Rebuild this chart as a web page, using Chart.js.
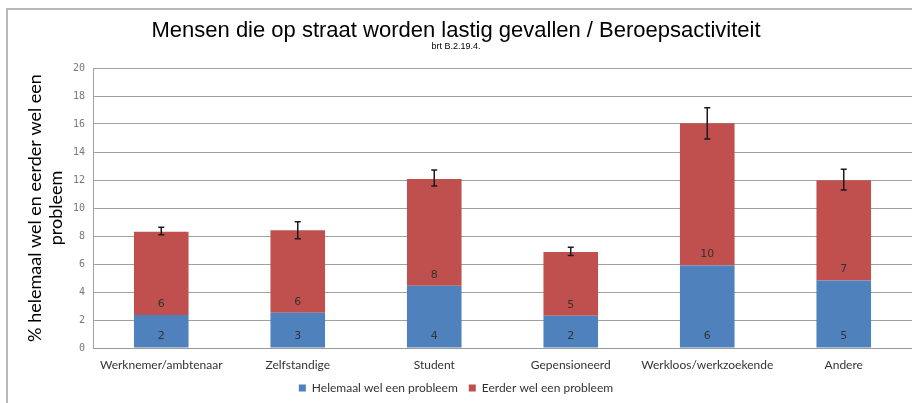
<!DOCTYPE html>
<html>
<head>
<meta charset="utf-8">
<script src="https://cdn.jsdelivr.net/npm/chart.js@4"></script>
<style>
  body { margin: 0; background: #fff; }
  #wrap { position: relative; width: 912px; height: 403px; overflow: hidden; }
  #frame { position: absolute; left: 6px; top: 8px; width: 1000px; height: 500px; border: 2px solid #b8b8b8; }
  #chart { position: absolute; left: 0; top: 0; }
</style>
</head>
<body>
<div id="wrap">
  <div id="frame"></div>
  <canvas id="chart" width="912" height="403"></canvas>
</div>
<script>
const categories = ['Werknemer/ambtenaar', 'Zelfstandige', 'Student', 'Gepensioneerd', 'Werkloos/werkzoekende', 'Andere'];
const helemaal = [2.36, 2.52, 4.45, 2.31, 5.90, 4.83];
const eerder = [5.95, 5.89, 7.62, 4.55, 10.15, 7.15];
const errLow = [8.09, 7.81, 11.57, 6.60, 14.93, 11.29];
const errHigh = [8.62, 9.02, 12.71, 7.19, 17.16, 12.76];
const seriesNames = ['Helemaal wel een probleem', 'Eerder wel een probleem'];
const yMax = 20;
const yStep = 2;

const barLabels = {
    id: 'barLabels',
    afterDatasetsDraw(chart) {
        const ctx = chart.ctx;
        ctx.save();
        ctx.font = '11px "DejaVu Sans"';
        ctx.fillStyle = '#333';
        ctx.textAlign = 'center';
        ctx.textBaseline = 'middle';
        chart.data.datasets.forEach((ds, d) => {
            chart.getDatasetMeta(d).data.forEach((bar, i) => {
                ctx.fillText(Math.round(ds.data[i]), bar.x, bar.base - 11);
            });
        });
        ctx.restore();
    }
};

const errorBars = {
    id: 'errorBars',
    afterDatasetsDraw(chart) {
        const ctx = chart.ctx;
        const y = chart.scales.y;
        const meta = chart.getDatasetMeta(1);
        ctx.save();
        ctx.strokeStyle = '#1a1a1a';
        ctx.lineWidth = 1.5;
        meta.data.forEach((bar, i) => {
            const top = y.getPixelForValue(errHigh[i]);
            const bottom = y.getPixelForValue(errLow[i]);
            ctx.beginPath();
            ctx.moveTo(bar.x, top);
            ctx.lineTo(bar.x, bottom);
            ctx.moveTo(bar.x - 3, top);
            ctx.lineTo(bar.x + 3, top);
            ctx.moveTo(bar.x - 3, bottom);
            ctx.lineTo(bar.x + 3, bottom);
            ctx.stroke();
        });
        ctx.restore();
    }
};

const ctx = document.getElementById('chart').getContext('2d');
window.chart = new Chart(ctx, {
    type: 'bar',
    data: {
        labels: categories,
        datasets: [
            { label: seriesNames[0], data: helemaal, backgroundColor: '#4F81BD' },
            { label: seriesNames[1], data: eerder, backgroundColor: '#C0504D' }
        ]
    },
    options: {
        responsive: false,
        animation: false,
        layout: { padding: 0 },
        datasets: { bar: { barPercentage: 0.4, categoryPercentage: 1 } },
        scales: {
            x: {
                stacked: true,
                afterFit(scale) { scale.height = 23; },
                grid: { display: false, drawTicks: false },
                border: { color: '#999' },
                ticks: { color: '#333', font: { family: 'Lato', size: 12, lineHeight: 1 }, padding: 11, maxRotation: 0, autoSkip: false }
            },
            y: {
                stacked: true,
                min: 0,
                max: yMax,
                afterFit(scale) { scale.width = 93; },
                grid: { color: '#a0a0a0', drawTicks: false },
                border: { color: '#a0a0a0' },
                ticks: { stepSize: yStep, color: '#777', font: { family: 'DejaVu Sans Mono', size: 10 }, padding: 8 },
                title: {
                    display: true,
                    text: ['% helemaal wel en eerder wel een', 'probleem'],
                    color: '#000',
                    font: { family: 'Lato', size: 18 },
                    padding: { top: 24, bottom: 0 }
                }
            }
        },
        plugins: {
            title: {
                display: true,
                text: 'Mensen die op straat worden lastig gevallen / Beroepsactiviteit',
                color: '#000',
                font: { family: '"Liberation Sans"', size: 22, weight: 'normal', lineHeight: 1 },
                padding: { top: 20, bottom: 0 }
            },
            subtitle: {
                display: true,
                text: 'brt B.2.19.4.',
                color: '#000',
                font: { family: '"Liberation Sans"', size: 9, lineHeight: 1 },
                padding: { top: 0, bottom: 17 }
            },
            legend: {
                position: 'bottom',
                maxHeight: 32,
                labels: { boxWidth: 7, boxHeight: 7, color: '#333', font: { family: 'Lato', size: 12 }, padding: 11 }
            },
            tooltip: { enabled: false }
        }
    },
    plugins: [barLabels, errorBars]
});
</script>
</body>
</html>
